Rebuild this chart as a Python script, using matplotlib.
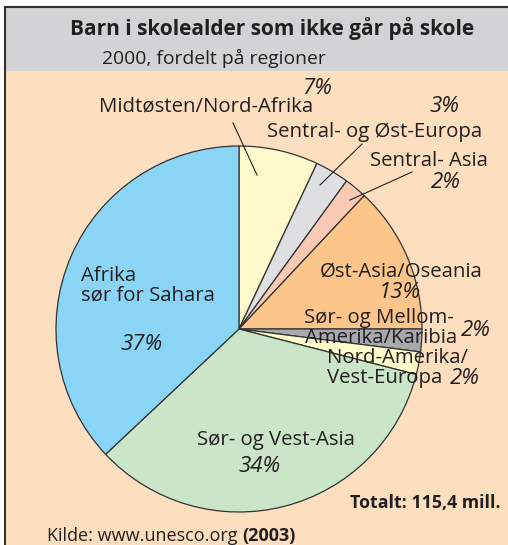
import matplotlib
matplotlib.use("Agg")
import matplotlib.pyplot as plt
from matplotlib.patches import Rectangle

plt.rcParams['font.family'] = ['Open Sans', 'DejaVu Sans']

# data, clockwise from the top
regions = ['Midtøsten/Nord-Afrika', 'Sentral- og Øst-Europa', 'Sentral- Asia',
           'Øst-Asia/Oseania', 'Sør- og Mellom-Amerika/Karibia',
           'Nord-Amerika/Vest-Europa', 'Sør- og Vest-Asia', 'Afrika sør for Sahara']
shares = [7, 3, 2, 13, 2, 2, 34, 37]
colors = ['#FFF9CC', '#DEDFE0', '#F9C9B3', '#FCC68A', '#A8A9AD',
          '#FFFACA', '#CAE5C8', '#8AD5F6']

W, H = 508, 545
txt = '#231F20'

fig = plt.figure(figsize=(W / 100, H / 100), dpi=100)
fig.patch.set_facecolor('white')

# background layer in pixel coords
bg = fig.add_axes([0, 0, 1, 1], zorder=0)
bg.set_xlim(0, W)
bg.set_ylim(H, 0)
bg.axis('off')
bg.add_patch(Rectangle((5, 7), W, 64, facecolor='#D1D3D4', edgecolor='none'))
bg.add_patch(Rectangle((5, 71), W, H, facecolor='#FDDEBF', edgecolor='none'))
bg.plot([5, W], [7, 7], color='#333333', lw=1.5)
bg.plot([5, 5], [7, H], color='#333333', lw=1.5)

# pie
cx, cy, r = 239, 329, 183
ax = fig.add_axes([(cx - r) / W, (H - cy - r) / H, 2 * r / W, 2 * r / H], zorder=1)
ax.pie(shares, colors=colors, startangle=90, counterclock=False,
       wedgeprops=dict(edgecolor='#333333', linewidth=0.9))
ax.set_xlim(-1, 1)
ax.set_ylim(-1, 1)
ax.set_aspect('auto')

# text layer
ov = fig.add_axes([0, 0, 1, 1], zorder=2)
ov.set_xlim(0, W)
ov.set_ylim(H, 0)
ov.axis('off')
ov.patch.set_alpha(0)

fs = 14.7
ps = 16


def label(x, y, s, **kw):
    ov.text(x, y, s, fontsize=fs, ha='left', va='center', color=txt, **kw)


def pct(x, y, v):
    ov.text(x, y, f'{v}%', fontsize=ps, style='italic', ha='center', va='center', color=txt)


ov.text(272, 29, 'Barn i skolealder som ikke går på skole', fontsize=15,
        fontweight='bold', ha='center', va='center', color=txt)
ov.text(102, 58, '2000, fordelt på regioner', fontsize=13.9, ha='left', va='center', color=txt)

pct(317, 88, shares[0])
label(99, 107, 'Midtøsten/Nord-Afrika')
ov.plot([233, 257], [123, 175], color=txt, lw=0.8)

pct(445, 106, shares[1])
label(267, 132, 'Sentral- og Øst-Europa')
ov.plot([362, 320], [144, 185], color=txt, lw=0.8)

label(370, 161, 'Sentral- Asia')
pct(446, 182, shares[2])
ov.plot([412, 350], [172, 200], color=txt, lw=0.8)

label(320, 272, 'Øst-Asia/Oseania')
pct(400, 292, shares[3])

label(304, 318, 'Sør- og Mellom-')
label(305, 338, 'Amerika/Karibia')
pct(476, 331, shares[4])

label(327, 358, 'Nord-Amerika/')
label(327, 378, 'Vest-Europa')
pct(465, 379, shares[5])

label(197, 440, 'Sør- og Vest-Asia')
pct(260, 467, shares[6])

label(81, 276, 'Afrika')
label(81, 296, 'sør for Sahara')
pct(142, 344, shares[7])

ov.text(500, 503, 'Totalt: 115,4 mill.', fontsize=12.8, fontweight='bold',
        ha='right', va='center', color=txt)
ov.text(47, 536, 'Kilde: www.unesco.org', fontsize=13, ha='left', va='center', color=txt)
ov.text(242, 536, '(2003)', fontsize=13, fontweight='bold', ha='left', va='center', color=txt)

fig.savefig('out.png', dpi=100)
